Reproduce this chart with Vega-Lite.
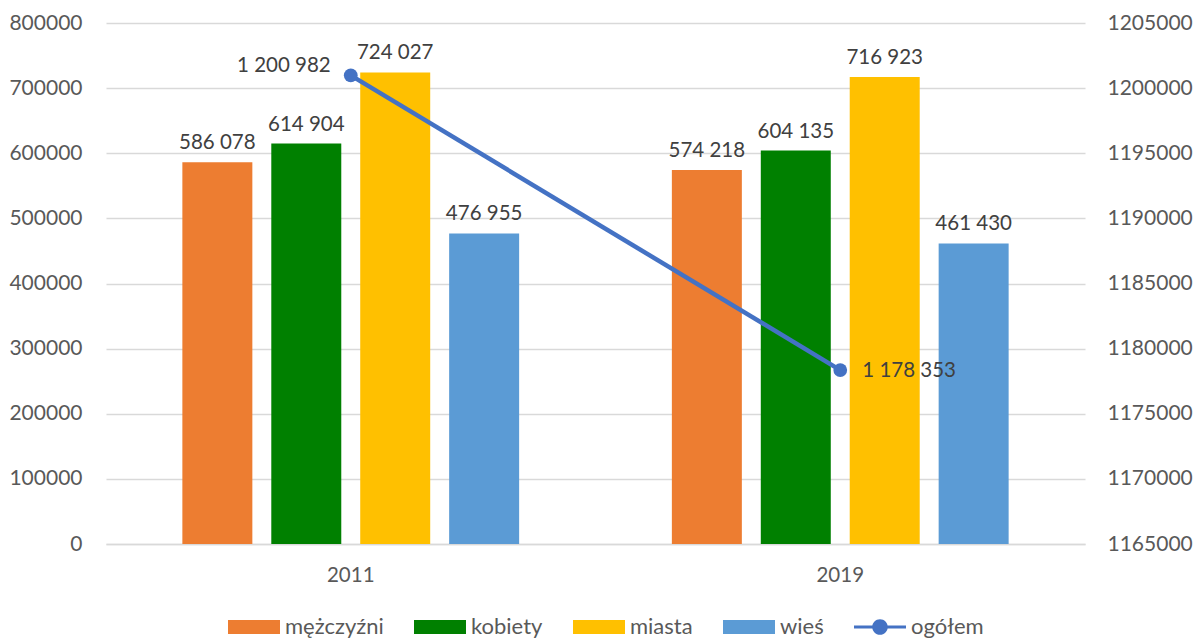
{
  "$schema": "https://vega.github.io/schema/vega-lite/v6.json",
  "width": 979,
  "height": 521,
  "autosize": "none",
  "padding": {"left": 106, "top": 23, "right": 110, "bottom": 97},
  "background": "white",
  "config": {
    "locale": {"number": {"decimal": ",", "thousands": " ", "grouping": [3], "currency": ["", " zł"]}},
    "font": "Lato",
    "view": {"stroke": null}
  },
  "data": {
    "values": [
      {"year": "2011", "series": "mężczyźni", "value": 586078},
      {"year": "2011", "series": "kobiety", "value": 614904},
      {"year": "2011", "series": "miasta", "value": 724027},
      {"year": "2011", "series": "wieś", "value": 476955},
      {"year": "2011", "series": "ogółem", "value": 1200982},
      {"year": "2019", "series": "mężczyźni", "value": 574218},
      {"year": "2019", "series": "kobiety", "value": 604135},
      {"year": "2019", "series": "miasta", "value": 716923},
      {"year": "2019", "series": "wieś", "value": 461430},
      {"year": "2019", "series": "ogółem", "value": 1178353}
    ]
  },
  "encoding": {
    "x": {
      "field": "year", "type": "nominal",
      "scale": {"paddingInner": 0.312, "paddingOuter": 0.156},
      "axis": {"title": null, "labelAngle": 0, "labelFontSize": 20.5, "labelColor": "#595959", "labelFont": "Lato", "ticks": false, "domainColor": "#d9d9d9", "domainWidth": 1.5, "labelPadding": 21}
    }
  },
  "layer": [
    {
      "transform": [{"filter": "datum.series !== 'ogółem'"}],
      "layer": [
        {
          "mark": {"type": "bar"},
          "encoding": {
            "xOffset": {"field": "series", "type": "nominal", "sort": ["mężczyźni", "kobiety", "miasta", "wieś"], "scale": {"paddingInner": 0.213, "paddingOuter": 0}},
            "y": {
              "field": "value", "type": "quantitative",
              "scale": {"domain": [0, 800000], "nice": false},
              "axis": {"title": null, "values": [0,100000,200000,300000,400000,500000,600000,700000,800000], "format": "d", "labelFontSize": 21, "labelColor": "#595959", "labelFont": "Lato", "ticks": false, "domain": false, "gridColor": "#d9d9d9", "gridWidth": 1.5, "labelPadding": 24}
            },
            "color": {
              "field": "series", "type": "nominal",
              "scale": {"domain": ["mężczyźni", "kobiety", "miasta", "wieś", "ogółem"], "range": ["#ED7D31", "#008000", "#FFC000", "#5B9BD5", "#4472C4"]},
              "legend": {
                "orient": "none", "legendX": 122, "legendY": 578, "direction": "horizontal", "title": null,
                "symbolType": "M-1,-0.27H1V0.27H-1Z", "symbolSize": 2704, "symbolStrokeWidth": 0,
                "labelFontSize": 22, "labelFont": "Lato", "labelColor": "#595959", "columnPadding": 30, "labelOffset": 5,
                "encode": {"symbols": {"update": {
                  "shape": {"signal": "datum.value === 'ogółem' ? 'M-1,-0.06H1V0.06H-1Z M0.3,0A0.3,0.3 0 1 1 -0.3,0A0.3,0.3 0 1 1 0.3,0Z' : 'M-1,-0.27H1V0.27H-1Z'"},
                  "fill": {"scale": "color", "field": "value"},
                  "strokeWidth": {"value": 0},
                  "opacity": {"value": 1}
                }}}
              }
            }
          }
        },
        {
          "mark": {"type": "text", "fontSize": 20.5, "font": "Lato", "color": "#404040", "baseline": "alphabetic", "dy": -13},
          "encoding": {
            "xOffset": {"field": "series", "type": "nominal", "sort": ["mężczyźni", "kobiety", "miasta", "wieś"]},
            "y": {"field": "value", "type": "quantitative"},
            "text": {"field": "value", "type": "quantitative", "format": ","}
          }
        }
      ]
    },
    {
      "transform": [{"filter": "datum.series === 'ogółem'"}],
      "layer": [
        {
          "mark": {"type": "line", "strokeWidth": 4.5, "color": "#4472C4"},
          "encoding": {
            "y": {
              "field": "value", "type": "quantitative",
              "scale": {"domain": [1165000, 1205000], "nice": false},
              "axis": {"orient": "right", "title": null, "values": [1165000,1170000,1175000,1180000,1185000,1190000,1195000,1200000,1205000], "format": "d", "labelFontSize": 21, "labelColor": "#595959", "labelFont": "Lato", "ticks": false, "domain": false, "grid": false, "labelPadding": 22}
            },
            "color": {"field": "series", "type": "nominal"}
          }
        },
        {
          "mark": {"type": "point", "filled": true, "size": 190, "opacity": 1, "color": "#4472C4"},
          "encoding": {"y": {"field": "value", "type": "quantitative"}}
        },
        {
          "transform": [{"filter": "datum.year === '2011'"}],
          "mark": {"type": "text", "fontSize": 20.5, "font": "Lato", "color": "#404040", "align": "right", "baseline": "alphabetic", "dx": -20, "dy": -3},
          "encoding": {
            "y": {"field": "value", "type": "quantitative"},
            "text": {"field": "value", "type": "quantitative", "format": ","}
          }
        },
        {
          "transform": [{"filter": "datum.year === '2019'"}],
          "mark": {"type": "text", "fontSize": 20.5, "font": "Lato", "color": "#404040", "align": "left", "baseline": "alphabetic", "dx": 22, "dy": 7},
          "encoding": {
            "y": {"field": "value", "type": "quantitative"},
            "text": {"field": "value", "type": "quantitative", "format": ","}
          }
        }
      ],
      "resolve": {"scale": {"y": "shared"}}
    }
  ],
  "resolve": {"scale": {"y": "independent"}}
}
